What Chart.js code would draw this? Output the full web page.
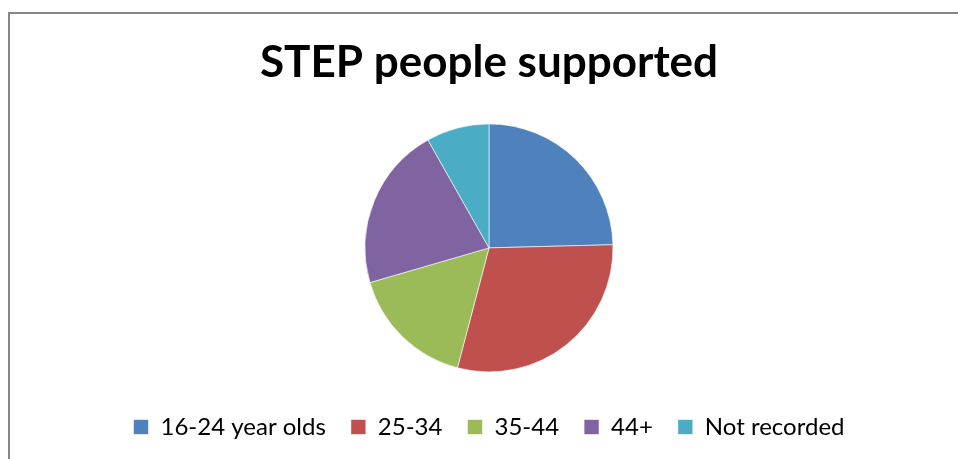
<!DOCTYPE html>
<html>
<head>
<meta charset="utf-8">
<script src="https://cdn.jsdelivr.net/npm/chart.js@4/dist/chart.umd.min.js"></script>
<style>
  html, body { margin: 0; padding: 0; background: #fff; overflow: hidden; }
  #wrap { position: relative; width: 958px; height: 459px; }
  #frame { position: absolute; left: 8px; top: 12px; width: 1000px; height: 500px;
           border: 2px solid #868686; box-sizing: border-box; }
  canvas { position: absolute; left: 0; top: 0; }
</style>
</head>
<body>
<div id="wrap">
  <div id="frame"></div>
  <canvas id="c" width="958" height="459"></canvas>
</div>
<script>
// Age groups of people supported by STEP
const categories = ['16-24 year olds', '25-34', '35-44', '44+', 'Not recorded'];
const peopleSupported = [15, 18, 10, 13, 5];
const sliceColors = ['#4F81BD', '#C0504D', '#9BBB59', '#8064A2', '#4BACC6'];

new Chart(document.getElementById('c'), {
  type: 'pie',
  data: {
    labels: categories,
    datasets: [{
      data: peopleSupported,
      backgroundColor: sliceColors,
      borderColor: 'rgba(255,255,255,0.6)',
      borderWidth: 1
    }]
  },
  options: {
    responsive: false,
    animation: false,
    radius: 124,
    layout: { padding: { left: 20, top: 0, bottom: 10 } },
    plugins: {
      title: {
        display: true,
        text: 'STEP people supported',
        color: '#000',
        font: { family: 'Lato', size: 44, weight: 'bold', lineHeight: 1.2 },
        padding: { top: 36, bottom: 17 }
      },
      legend: {
        position: 'bottom',
        labels: {
          color: '#000',
          font: { family: 'Lato', size: 24 },
          boxWidth: 15,
          boxHeight: 15,
          padding: 25
        }
      },
      tooltip: { enabled: false }
    }
  }
});
</script>
</body>
</html>
